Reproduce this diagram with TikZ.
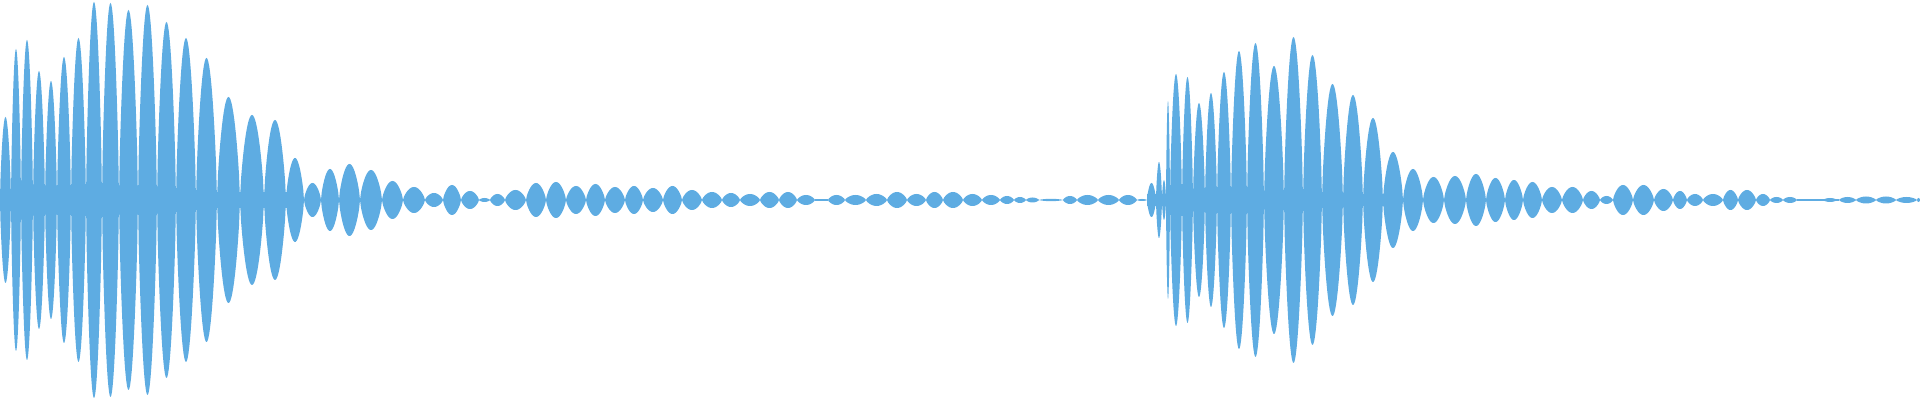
\documentclass[tikz,border=0pt]{standalone}
\definecolor{wavecol}{RGB}{94,172,226}
\begin{document}
\begin{tikzpicture}[x=0.01cm,y=0.01cm,wave/.style={fill=wavecol,draw=none}]
\useasboundingbox (0,0) rectangle (1920,400);
% dense cores of the two bursts
\fill[wave] (0,192) rectangle (290,208);
\fill[wave] (1147,194) rectangle (1390,206);
\fill[wave] (815,199.3) rectangle (828,200.7);
\fill[wave] (1797,199.3) rectangle (1839,200.7);
\foreach \a/\b/\h in {0/11/83, 11/21/151, 21/33/160, 33/45/129, 45/57/119, 57/71/143, 71/86/162, 86/102/198, 102/119/197, 119/138/190, 138/157/195, 157/176/178, 176/196/162, 196/217/142, 217/240/103, 240/264/85, 264/286/80, 286/304/42, 304/321/17, 321/339/31, 339/360/36, 360/382/30, 382/403/19, 403/425/13, 425/443/7, 443/461/15, 461/479/9,
 479/490/2, 490/505/6, 505/526/10, 526/546/17, 546/566/18, 566/586/14, 586/605/16, 605/625/13, 625/643/14, 643/663/12, 663/682/14, 682/702/10, 702/722/8, 722/740/7, 740/760/6, 760/779/8, 779/797/8, 797/815/5, 828/845/5, 845/866/5, 866/887/6, 887/907/8, 907/926/6, 926/943/8, 943/963/8, 963/982/6, 982/1000/5, 1000/1014/4, 1014/1026/3, 1026/1039/2.5, 1039/1063/1.2, 1063/1077/4, 1077/1098/5, 1098/1119/5, 1119/1137/5, 1137/1147/1,
 1147/1156/17, 1156/1162/38, 1162/1166/20, 1166/1170/99, 1170/1182/126, 1182/1193/123, 1193/1205/97, 1205/1217/107, 1217/1231/128, 1231/1247/149, 1247/1264/157, 1264/1284/134, 1284/1303/163, 1303/1322/145, 1322/1343/116, 1343/1363/105, 1363/1383/82, 1383/1403/48, 1403/1423/31, 1423/1444/23, 1444/1466/24, 1466/1486/26, 1486/1505/22, 1505/1523/20, 1523/1542/18, 1542/1562/13, 1562/1583/13, 1583/1600/9, 1600/1613/4, 1613/1633/15, 1633/1654/15, 1654/1673/11, 1673/1687/9, 1687/1703/6, 1703/1723/6, 1723/1738/10, 1738/1756/10, 1756/1770/6, 1770/1783/3, 1783/1797/3, 1823/1837/2, 1839/1856/3, 1856/1876/3.5, 1876/1896/3.5, 1896/1917/3, 1917/1920/2}
  \fill[wave] plot[domain=0:180,samples=25] ({\a+(\b-\a)*\x/180},{200+\h*abs(sin(\x))^0.7})
    -- plot[domain=180:0,samples=25] ({\a+(\b-\a)*\x/180},{200-\h*abs(sin(\x))^0.7}) -- cycle;
\end{tikzpicture}
\end{document}
